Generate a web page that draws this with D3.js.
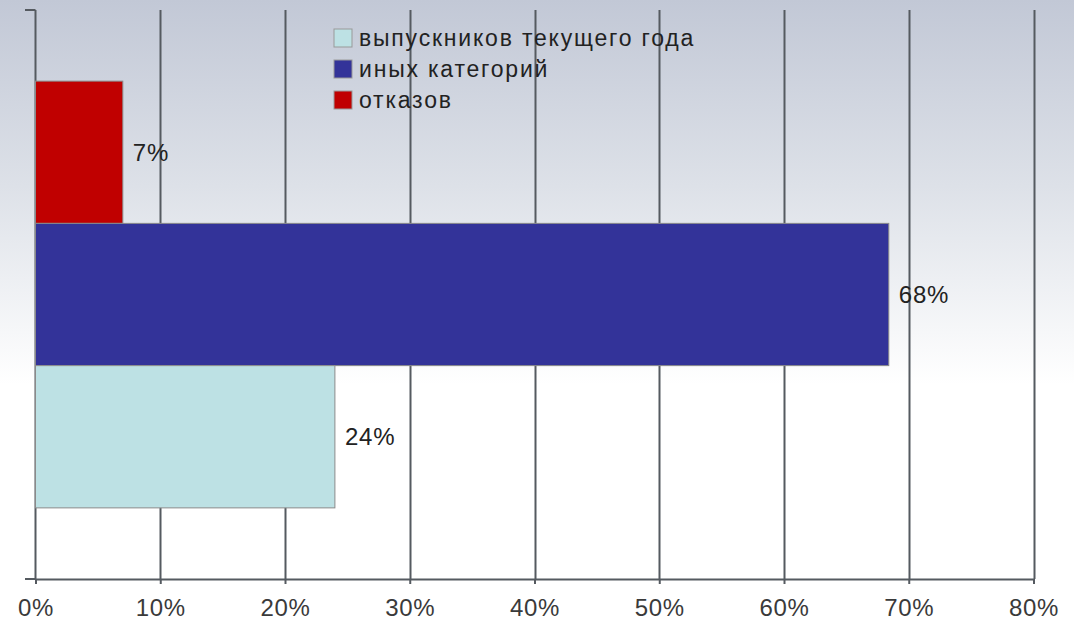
<!DOCTYPE html>
<html><head><meta charset="utf-8">
<script src="https://cdn.jsdelivr.net/npm/d3@7"></script>
<style>html,body{margin:0;padding:0;background:#fff;}svg{display:block;}</style>
</head><body>
<script>
const categories = ["отказов", "иных категорий", "выпускников текущего года"];
const values = [7, 68.4, 24];
const valueLabels = ["7%", "68%", "24%"];
const colors = ["#c00000", "#333399", "#bde1e4"];
const legendOrder = ["выпускников текущего года", "иных категорий", "отказов"];
const ticks = [0, 10, 20, 30, 40, 50, 60, 70, 80];

const W = 1074, H = 620;
const svg = d3.select("body").append("svg").attr("width", W).attr("height", H);
const defs = svg.append("defs");
const g1 = defs.append("linearGradient").attr("id", "bg").attr("x1", 0).attr("y1", 0).attr("x2", 0).attr("y2", 1);
g1.append("stop").attr("offset", "0%").attr("stop-color", "#c2c8d6");
g1.append("stop").attr("offset", "30%").attr("stop-color", "#dde1e8");
g1.append("stop").attr("offset", "62%").attr("stop-color", "#ffffff");
g1.append("stop").attr("offset", "100%").attr("stop-color", "#ffffff");
svg.append("rect").attr("width", W).attr("height", H).attr("fill", "url(#bg)");

const x0 = 35.5, x1 = 1033.5, yTop = 10, yBot = 579;
const x = d3.scaleLinear().domain([0, 80]).range([x0, x1]);
const y = d3.scaleBand().domain(categories).range([yTop, yBot]).paddingInner(0).paddingOuter(0.5);
const font = "Liberation Sans, Arial, sans-serif";

// grid lines
svg.append("g").selectAll("line").data(ticks.slice(1)).join("line")
  .attr("x1", d => Math.round(x(d)) + 0.5).attr("x2", d => Math.round(x(d)) + 0.5)
  .attr("y1", yTop).attr("y2", yBot)
  .attr("stroke", "#555a60").attr("stroke-width", 2);

// y axis line + ticks
svg.append("line").attr("x1", x0).attr("x2", x0).attr("y1", yTop).attr("y2", yBot)
  .attr("stroke", "#555a60").attr("stroke-width", 2);
svg.append("line").attr("x1", 25).attr("x2", x0).attr("y1", yTop).attr("y2", yTop)
  .attr("stroke", "#555a60").attr("stroke-width", 2);
svg.append("line").attr("x1", 25).attr("x2", x0).attr("y1", yBot).attr("y2", yBot)
  .attr("stroke", "#555a60").attr("stroke-width", 2);

// bars
svg.append("g").selectAll("rect").data(categories).join("rect")
  .attr("x", x(0)).attr("y", d => y(d))
  .attr("width", (d, i) => x(values[i]) - x(0))
  .attr("height", y.bandwidth())
  .attr("fill", (d, i) => colors[i])
  .attr("stroke", "#8a8a8a").attr("stroke-width", 1);

// x axis
const xAxis = d3.axisBottom(x).tickValues(ticks).tickFormat(d => d + "%").tickSize(5).tickPadding(15);
const ax = svg.append("g").attr("transform", `translate(0,${yBot})`).call(xAxis);
ax.select(".domain").attr("stroke", "#555a60").attr("stroke-width", 2);
ax.selectAll(".tick line").attr("stroke", "#555a60").attr("stroke-width", 2);
ax.selectAll("text").attr("font-family", font).attr("font-size", 24)
  .attr("letter-spacing", "0.6px").attr("fill", "#3a3a3a");

// value labels
svg.append("g").selectAll("text").data(categories).join("text")
  .attr("x", (d, i) => x(values[i]) + 10)
  .attr("y", d => y(d) + y.bandwidth() / 2)
  .attr("dy", "0.35em")
  .attr("font-family", font).attr("font-size", 24).attr("letter-spacing", "0.8px").attr("fill", "#222")
  .text((d, i) => valueLabels[i]);

// legend
const lg = svg.append("g").attr("transform", "translate(334,29)");
legendOrder.forEach((name, i) => {
  const idx = categories.indexOf(name);
  const row = lg.append("g").attr("transform", `translate(0,${i * 31})`);
  row.append("rect").attr("x", 0).attr("y", 0).attr("width", 18).attr("height", 18)
    .attr("fill", colors[idx]).attr("stroke", "#999").attr("stroke-width", 1);
  row.append("text").attr("x", 25).attr("y", 9).attr("dy", "0.35em")
    .attr("font-family", font).attr("font-size", 23).attr("letter-spacing", "1.8px").attr("fill", "#222")
    .text(name);
});
</script>
</body></html>
